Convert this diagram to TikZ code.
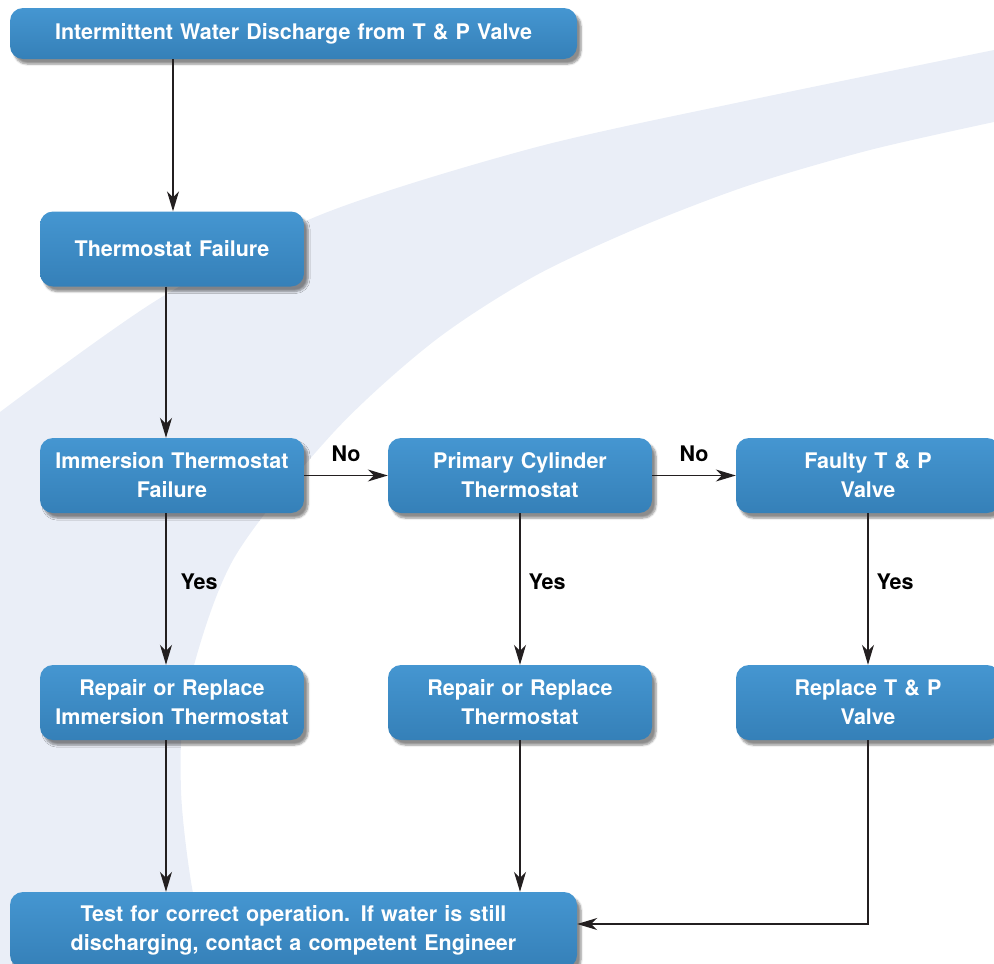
\documentclass[tikz,border=0pt]{standalone}
\usepackage{fontspec}
\setmainfont{TeX Gyre Heros}
\usetikzlibrary{arrows.meta,shadows.blur,calc}
\definecolor{boxtop}{HTML}{4596D1}
\definecolor{boxbot}{HTML}{3580B8}
\definecolor{bgc}{HTML}{EAEEF7}
\definecolor{linec}{HTML}{231F20}
\tikzset{
  box/.style={rounded corners=13pt, minimum width=264pt, minimum height=75pt,
    text width=258pt, align=center, text=white, inner sep=0pt,
    top color=boxtop, bottom color=boxbot,
    blur shadow={shadow xshift=4pt, shadow yshift=-5pt, shadow blur steps=6, shadow opacity=45}},
  widebox/.style={box, minimum width=567pt, text width=560pt},
  arr/.style={-{Stealth[length=20pt,width=12pt,inset=6pt]}, line width=1.3pt, draw=linec},
  lbl/.style={text=black, inner sep=0pt}
}
\begin{document}
\begin{tikzpicture}[x=1pt,y=-1pt, font=\fontsize{21.5}{29}\selectfont\bfseries]
\useasboundingbox (0,0) rectangle (994,964);
\fill[bgc] plot[smooth, tension=0.5] coordinates {(0,412) (157,300) (320,215) (533,148) (750,100) (994,50)}
  -- plot[smooth, tension=0.5] coordinates {(994,122) (870,150) (750,185) (640,227) (533,277) (433,342) (333,433) (233,560) (187,693) (181,790) (193,893) (214,964)}
  -- (0,964) -- cycle;

\node[widebox, minimum height=51pt] (top) at (293.5,33.5) {Intermittent Water Discharge from T \& P Valve};
\node[box] (tf) at (172,249) {Thermostat Failure};
\node[box] (imm) at (172,475.5) {Immersion Thermostat\\Failure};
\node[box] (pcy) at (520,475.5) {Primary Cylinder\\Thermostat};
\node[box] (ftp) at (868,475.5) {Faulty T \& P\\Valve};
\node[box] (rri) at (172,702.5) {Repair or Replace\\Immersion Thermostat};
\node[box] (rrt) at (520,702.5) {Repair or Replace\\Thermostat};
\node[box] (rtp) at (868,702.5) {Replace T \& P\\Valve};
\node[widebox, minimum height=76pt] (test) at (293.5,930) {Test for correct operation. If water is still\\discharging, contact a competent Engineer};

\draw[arr] ([xshift=1pt]top.south -| tf.north) -- ([xshift=1pt]tf.north);
\draw[arr] ([xshift=-6pt]tf.south) -- ([xshift=-6pt]imm.north);
\draw[arr] ([xshift=-6pt]imm.south) -- node[lbl, pos=0.455, right=14pt] (y1) {Yes} ([xshift=-6pt]rri.north);
\draw[arr] (pcy.south) -- node[lbl, pos=0.455, right=8pt] (y2) {Yes} (rrt.north);
\draw[arr] (ftp.south) -- node[lbl, pos=0.455, right=8pt] (y3) {Yes} (rtp.north);
\draw[arr] (imm.east) -- node[lbl, pos=0.5, above=13pt] (n1) {No} (pcy.west);
\draw[arr] (pcy.east) -- node[lbl, pos=0.5, above=13pt] (n2) {No} (ftp.west);
\draw[arr] ([xshift=-6pt]rri.south) -- ([xshift=-6pt]rri.south |- test.north);
\draw[arr] (rrt.south) -- (rrt.south |- test.north);
\draw[arr] (rtp.south) |- ([yshift=6pt]test.east);
\end{tikzpicture}
\end{document}
